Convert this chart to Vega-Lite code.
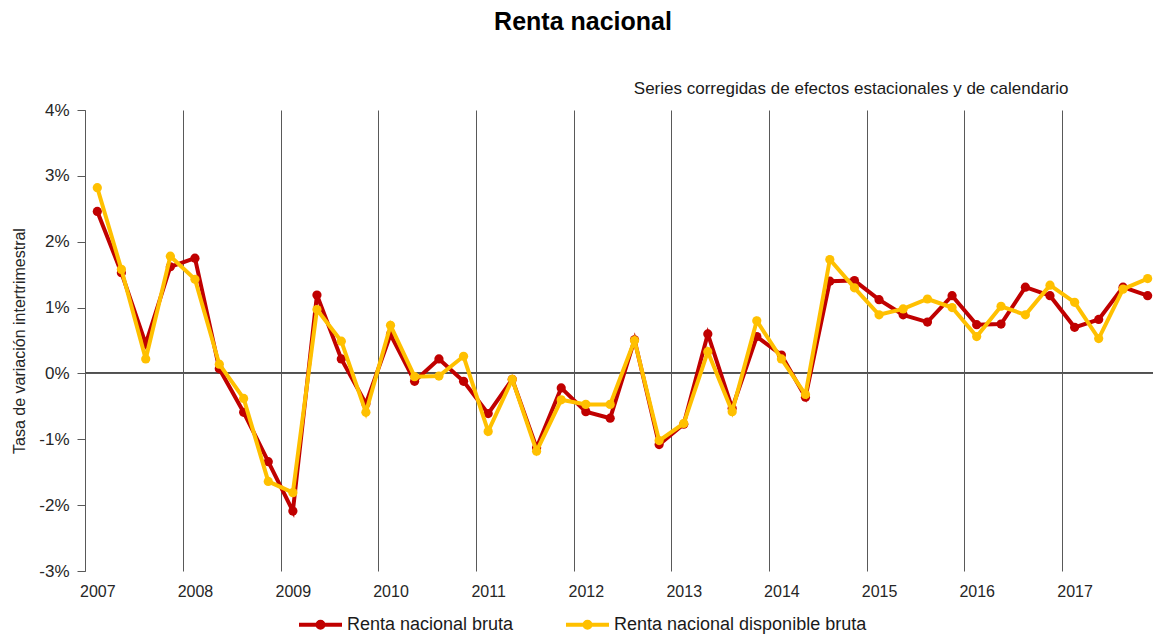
{
  "$schema": "https://vega.github.io/schema/vega-lite/v6.json",
  "width": 1068,
  "height": 461,
  "autosize": {"type": "none"},
  "padding": {"left": 85, "top": 110, "right": 0, "bottom": 66},
  "background": "white",
  "config": {
    "view": {"stroke": null},
    "font": "Liberation Sans"
  },
  "title": {
    "text": "Renta nacional",
    "font": "Liberation Sans",
    "fontSize": 25,
    "fontWeight": "bold",
    "color": "#000000",
    "anchor": "middle",
    "frame": "group",
    "dx": -36,
    "offset": 44
  },
  "data": {
    "values": [
      {"trimestre": "2007-01-01T00:00:00", "serie": "Renta nacional bruta", "valor": 2.46},
      {"trimestre": "2007-04-01T00:00:00", "serie": "Renta nacional bruta", "valor": 1.53},
      {"trimestre": "2007-07-01T00:00:00", "serie": "Renta nacional bruta", "valor": 0.45},
      {"trimestre": "2007-10-01T00:00:00", "serie": "Renta nacional bruta", "valor": 1.62},
      {"trimestre": "2008-01-01T00:00:00", "serie": "Renta nacional bruta", "valor": 1.75},
      {"trimestre": "2008-04-01T00:00:00", "serie": "Renta nacional bruta", "valor": 0.07},
      {"trimestre": "2008-07-01T00:00:00", "serie": "Renta nacional bruta", "valor": -0.59},
      {"trimestre": "2008-10-01T00:00:00", "serie": "Renta nacional bruta", "valor": -1.34},
      {"trimestre": "2009-01-01T00:00:00", "serie": "Renta nacional bruta", "valor": -2.09},
      {"trimestre": "2009-04-01T00:00:00", "serie": "Renta nacional bruta", "valor": 1.19},
      {"trimestre": "2009-07-01T00:00:00", "serie": "Renta nacional bruta", "valor": 0.22},
      {"trimestre": "2009-10-01T00:00:00", "serie": "Renta nacional bruta", "valor": -0.46},
      {"trimestre": "2010-01-01T00:00:00", "serie": "Renta nacional bruta", "valor": 0.59},
      {"trimestre": "2010-04-01T00:00:00", "serie": "Renta nacional bruta", "valor": -0.12},
      {"trimestre": "2010-07-01T00:00:00", "serie": "Renta nacional bruta", "valor": 0.22},
      {"trimestre": "2010-10-01T00:00:00", "serie": "Renta nacional bruta", "valor": -0.12},
      {"trimestre": "2011-01-01T00:00:00", "serie": "Renta nacional bruta", "valor": -0.61},
      {"trimestre": "2011-04-01T00:00:00", "serie": "Renta nacional bruta", "valor": -0.09},
      {"trimestre": "2011-07-01T00:00:00", "serie": "Renta nacional bruta", "valor": -1.13},
      {"trimestre": "2011-10-01T00:00:00", "serie": "Renta nacional bruta", "valor": -0.22},
      {"trimestre": "2012-01-01T00:00:00", "serie": "Renta nacional bruta", "valor": -0.58},
      {"trimestre": "2012-04-01T00:00:00", "serie": "Renta nacional bruta", "valor": -0.68},
      {"trimestre": "2012-07-01T00:00:00", "serie": "Renta nacional bruta", "valor": 0.51},
      {"trimestre": "2012-10-01T00:00:00", "serie": "Renta nacional bruta", "valor": -1.08},
      {"trimestre": "2013-01-01T00:00:00", "serie": "Renta nacional bruta", "valor": -0.77},
      {"trimestre": "2013-04-01T00:00:00", "serie": "Renta nacional bruta", "valor": 0.60},
      {"trimestre": "2013-07-01T00:00:00", "serie": "Renta nacional bruta", "valor": -0.53},
      {"trimestre": "2013-10-01T00:00:00", "serie": "Renta nacional bruta", "valor": 0.56},
      {"trimestre": "2014-01-01T00:00:00", "serie": "Renta nacional bruta", "valor": 0.28},
      {"trimestre": "2014-04-01T00:00:00", "serie": "Renta nacional bruta", "valor": -0.36},
      {"trimestre": "2014-07-01T00:00:00", "serie": "Renta nacional bruta", "valor": 1.40},
      {"trimestre": "2014-10-01T00:00:00", "serie": "Renta nacional bruta", "valor": 1.41},
      {"trimestre": "2015-01-01T00:00:00", "serie": "Renta nacional bruta", "valor": 1.12},
      {"trimestre": "2015-04-01T00:00:00", "serie": "Renta nacional bruta", "valor": 0.89},
      {"trimestre": "2015-07-01T00:00:00", "serie": "Renta nacional bruta", "valor": 0.78},
      {"trimestre": "2015-10-01T00:00:00", "serie": "Renta nacional bruta", "valor": 1.18},
      {"trimestre": "2016-01-01T00:00:00", "serie": "Renta nacional bruta", "valor": 0.74},
      {"trimestre": "2016-04-01T00:00:00", "serie": "Renta nacional bruta", "valor": 0.75},
      {"trimestre": "2016-07-01T00:00:00", "serie": "Renta nacional bruta", "valor": 1.31},
      {"trimestre": "2016-10-01T00:00:00", "serie": "Renta nacional bruta", "valor": 1.18},
      {"trimestre": "2017-01-01T00:00:00", "serie": "Renta nacional bruta", "valor": 0.70},
      {"trimestre": "2017-04-01T00:00:00", "serie": "Renta nacional bruta", "valor": 0.82},
      {"trimestre": "2017-07-01T00:00:00", "serie": "Renta nacional bruta", "valor": 1.31},
      {"trimestre": "2017-10-01T00:00:00", "serie": "Renta nacional bruta", "valor": 1.18},
      {"trimestre": "2007-01-01T00:00:00", "serie": "Renta nacional disponible bruta", "valor": 2.82},
      {"trimestre": "2007-04-01T00:00:00", "serie": "Renta nacional disponible bruta", "valor": 1.58},
      {"trimestre": "2007-07-01T00:00:00", "serie": "Renta nacional disponible bruta", "valor": 0.22},
      {"trimestre": "2007-10-01T00:00:00", "serie": "Renta nacional disponible bruta", "valor": 1.78},
      {"trimestre": "2008-01-01T00:00:00", "serie": "Renta nacional disponible bruta", "valor": 1.43},
      {"trimestre": "2008-04-01T00:00:00", "serie": "Renta nacional disponible bruta", "valor": 0.14},
      {"trimestre": "2008-07-01T00:00:00", "serie": "Renta nacional disponible bruta", "valor": -0.38},
      {"trimestre": "2008-10-01T00:00:00", "serie": "Renta nacional disponible bruta", "valor": -1.64},
      {"trimestre": "2009-01-01T00:00:00", "serie": "Renta nacional disponible bruta", "valor": -1.81},
      {"trimestre": "2009-04-01T00:00:00", "serie": "Renta nacional disponible bruta", "valor": 0.97},
      {"trimestre": "2009-07-01T00:00:00", "serie": "Renta nacional disponible bruta", "valor": 0.49},
      {"trimestre": "2009-10-01T00:00:00", "serie": "Renta nacional disponible bruta", "valor": -0.59},
      {"trimestre": "2010-01-01T00:00:00", "serie": "Renta nacional disponible bruta", "valor": 0.73},
      {"trimestre": "2010-04-01T00:00:00", "serie": "Renta nacional disponible bruta", "valor": -0.05},
      {"trimestre": "2010-07-01T00:00:00", "serie": "Renta nacional disponible bruta", "valor": -0.04},
      {"trimestre": "2010-10-01T00:00:00", "serie": "Renta nacional disponible bruta", "valor": 0.26},
      {"trimestre": "2011-01-01T00:00:00", "serie": "Renta nacional disponible bruta", "valor": -0.88},
      {"trimestre": "2011-04-01T00:00:00", "serie": "Renta nacional disponible bruta", "valor": -0.09},
      {"trimestre": "2011-07-01T00:00:00", "serie": "Renta nacional disponible bruta", "valor": -1.18},
      {"trimestre": "2011-10-01T00:00:00", "serie": "Renta nacional disponible bruta", "valor": -0.40},
      {"trimestre": "2012-01-01T00:00:00", "serie": "Renta nacional disponible bruta", "valor": -0.47},
      {"trimestre": "2012-04-01T00:00:00", "serie": "Renta nacional disponible bruta", "valor": -0.47},
      {"trimestre": "2012-07-01T00:00:00", "serie": "Renta nacional disponible bruta", "valor": 0.50},
      {"trimestre": "2012-10-01T00:00:00", "serie": "Renta nacional disponible bruta", "valor": -1.02},
      {"trimestre": "2013-01-01T00:00:00", "serie": "Renta nacional disponible bruta", "valor": -0.76},
      {"trimestre": "2013-04-01T00:00:00", "serie": "Renta nacional disponible bruta", "valor": 0.33},
      {"trimestre": "2013-07-01T00:00:00", "serie": "Renta nacional disponible bruta", "valor": -0.58},
      {"trimestre": "2013-10-01T00:00:00", "serie": "Renta nacional disponible bruta", "valor": 0.80},
      {"trimestre": "2014-01-01T00:00:00", "serie": "Renta nacional disponible bruta", "valor": 0.22},
      {"trimestre": "2014-04-01T00:00:00", "serie": "Renta nacional disponible bruta", "valor": -0.32},
      {"trimestre": "2014-07-01T00:00:00", "serie": "Renta nacional disponible bruta", "valor": 1.73},
      {"trimestre": "2014-10-01T00:00:00", "serie": "Renta nacional disponible bruta", "valor": 1.30},
      {"trimestre": "2015-01-01T00:00:00", "serie": "Renta nacional disponible bruta", "valor": 0.89},
      {"trimestre": "2015-04-01T00:00:00", "serie": "Renta nacional disponible bruta", "valor": 0.98},
      {"trimestre": "2015-07-01T00:00:00", "serie": "Renta nacional disponible bruta", "valor": 1.13},
      {"trimestre": "2015-10-01T00:00:00", "serie": "Renta nacional disponible bruta", "valor": 1.00},
      {"trimestre": "2016-01-01T00:00:00", "serie": "Renta nacional disponible bruta", "valor": 0.56},
      {"trimestre": "2016-04-01T00:00:00", "serie": "Renta nacional disponible bruta", "valor": 1.02},
      {"trimestre": "2016-07-01T00:00:00", "serie": "Renta nacional disponible bruta", "valor": 0.89},
      {"trimestre": "2016-10-01T00:00:00", "serie": "Renta nacional disponible bruta", "valor": 1.34},
      {"trimestre": "2017-01-01T00:00:00", "serie": "Renta nacional disponible bruta", "valor": 1.08},
      {"trimestre": "2017-04-01T00:00:00", "serie": "Renta nacional disponible bruta", "valor": 0.53},
      {"trimestre": "2017-07-01T00:00:00", "serie": "Renta nacional disponible bruta", "valor": 1.28},
      {"trimestre": "2017-10-01T00:00:00", "serie": "Renta nacional disponible bruta", "valor": 1.44}
    ]
  },
  "encoding": {
    "x": {
      "field": "trimestre",
      "type": "temporal",
      "scale": {
        "domain": [
          {"year": 2006, "month": 11, "date": 16},
          {"year": 2017, "month": 10, "date": 21}
        ]
      },
      "axis": {
        "orient": "bottom",
        "values": [
          {"year": 2006, "month": 11, "date": 16},
          {"year": 2007, "month": 11, "date": 16},
          {"year": 2008, "month": 11, "date": 16},
          {"year": 2009, "month": 11, "date": 16},
          {"year": 2010, "month": 11, "date": 16},
          {"year": 2011, "month": 11, "date": 16},
          {"year": 2012, "month": 11, "date": 16},
          {"year": 2013, "month": 11, "date": 16},
          {"year": 2014, "month": 11, "date": 16},
          {"year": 2015, "month": 11, "date": 16},
          {"year": 2016, "month": 11, "date": 16}
        ],
        "labelExpr": "year(datum.value) + 1",
        "labelOffset": 12.3,
        "labelFontSize": 16,
        "labelColor": "#262626",
        "labelFont": "Liberation Sans",
        "labelPadding": 12,
        "labelFlush": false,
        "labelOverlap": false,
        "labelBound": false,
        "ticks": false,
        "tickSize": 0,
        "domain": false,
        "grid": true,
        "gridColor": "#595959",
        "gridWidth": 1,
        "gridOpacity": 1,
        "title": "Series corregidas de efectos estacionales  y de calendario",
        "titleFont": "Liberation Sans",
        "titleFontSize": 17,
        "titleFontWeight": "normal",
        "titleColor": "#1a1a1a",
        "titleAlign": "right",
        "titleBaseline": "alphabetic",
        "titleLimit": 0,
        "titleX": 983,
        "titleY": -478
      }
    },
    "y": {
      "field": "valor",
      "type": "quantitative",
      "scale": {"domain": [-3, 4], "nice": false, "zero": false},
      "axis": {
        "values": [-3, -2, -1, 0, 1, 2, 3, 4],
        "labelExpr": "datum.value + '%'",
        "labelFontSize": 17,
        "labelColor": "#262626",
        "labelFont": "Liberation Sans",
        "labelPadding": 8,
        "ticks": true,
        "tickSize": 8,
        "tickColor": "#595959",
        "domain": true,
        "domainColor": "#595959",
        "grid": false,
        "title": "Tasa de variación intertrimestral",
        "titleFont": "Liberation Sans",
        "titleFontSize": 16,
        "titleFontWeight": "normal",
        "titleColor": "#262626",
        "titlePadding": 11
      }
    }
  },
  "layer": [
    {
      "mark": {"type": "rule", "color": "#595959", "strokeWidth": 1},
      "encoding": {
        "x": null,
        "y": {"datum": 0}
      }
    },
    {
      "transform": [{"filter": "datum.serie === 'Renta nacional bruta'"}],
      "mark": {"type": "line", "strokeWidth": 4, "point": {"filled": true, "size": 85, "opacity": 1}},
      "encoding": {
        "color": {
          "field": "serie",
          "type": "nominal",
          "scale": {
            "domain": ["Renta nacional bruta", "Renta nacional disponible bruta"],
            "range": ["#C00000", "#FFC000"]
          },
          "legend": {
            "title": null,
            "orient": "none",
            "direction": "horizontal",
            "legendX": 212,
            "legendY": 491,
            "symbolType": "M-1,0L1,0M-0.14,0A0.14,0.14,0,1,0,0.14,0A0.14,0.14,0,1,0,-0.14,0",
            "symbolSize": 1849,
            "symbolStrokeWidth": 4,
            "labelFontSize": 18,
            "labelFont": "Liberation Sans",
            "labelColor": "#1a1a1a",
            "labelOffset": 3,
            "labelLimit": 0,
            "columnPadding": 44,
            "encode": {
              "symbols": {
                "update": {
                  "fill": {"scale": "color", "field": "value"},
                  "stroke": {"scale": "color", "field": "value"},
                  "opacity": {"value": 1}
                }
              }
            }
          }
        }
      }
    },
    {
      "transform": [{"filter": "datum.serie === 'Renta nacional disponible bruta'"}],
      "mark": {"type": "line", "strokeWidth": 4, "point": {"filled": true, "size": 85, "opacity": 1}},
      "encoding": {
        "color": {
          "field": "serie",
          "type": "nominal"
        }
      }
    }
  ]
}
